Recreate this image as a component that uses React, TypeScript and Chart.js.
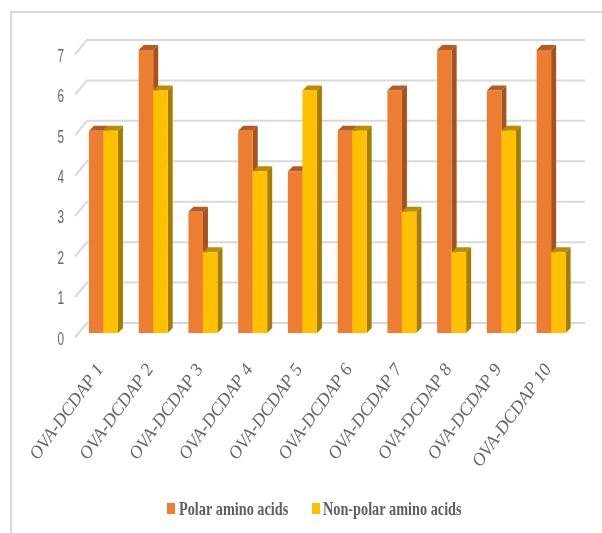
import React, { useEffect, useRef } from "react";
import { Chart, registerables } from "chart.js";

Chart.register(...registerables);

const categories = [
  "OVA-DCDAP 1", "OVA-DCDAP 2", "OVA-DCDAP 3", "OVA-DCDAP 4", "OVA-DCDAP 5",
  "OVA-DCDAP 6", "OVA-DCDAP 7", "OVA-DCDAP 8", "OVA-DCDAP 9", "OVA-DCDAP 10",
];
const polarValues = [5, 7, 3, 5, 4, 5, 6, 7, 6, 7];
const nonPolarValues = [5, 6, 2, 4, 6, 5, 3, 2, 5, 2];
const valueTicks = [0, 1, 2, 3, 4, 5, 6, 7];

const FACE_COLORS = [
  { front: "#ed7d31", side: "#a5521f", top: "#b55c22" },
  { front: "#ffc000", side: "#a67d00", top: "#b88d00" },
];
const DEPTH = 5;
const GRID_COLOR = "#d9d9d9";
const TEXT_COLOR = "#666666";

// Perspective walls: gridlines sit behind the bars and run forward to the value labels.
const wallPlugin = {
  id: "wall",
  beforeDatasetsDraw(chart: any) {
    const { ctx, chartArea, scales } = chart;
    ctx.save();
    ctx.strokeStyle = GRID_COLOR;
    ctx.lineWidth = 2;
    for (const v of valueTicks) {
      const y = scales.y.getPixelForValue(v);
      ctx.beginPath();
      ctx.moveTo(chartArea.left - 3.6, y + 4.5);
      ctx.lineTo(chartArea.left + 8.4, y - 10);
      ctx.lineTo(chartArea.right + 9, y - 10);
      ctx.stroke();
    }
    ctx.restore();
  },
  afterDraw(chart: any) {
    const { ctx, chartArea, scales } = chart;
    ctx.save();
    ctx.fillStyle = TEXT_COLOR;
    ctx.font = '19px "Liberation Sans"';
    ctx.textAlign = "right";
    ctx.textBaseline = "middle";
    for (const v of valueTicks) {
      ctx.save();
      ctx.translate(chartArea.left - 14.5, scales.y.getPixelForValue(v) + 6.5);
      ctx.scale(0.62, 1);
      ctx.fillText(String(v), 0, 0);
      ctx.restore();
    }
    ctx.restore();
  },
};

// Paints each series left to right so the nearer bar overlaps its neighbour's side face.
const extrudePlugin = {
  id: "extrude",
  beforeDatasetDraw() {
    return false;
  },
  afterDatasetsDraw(chart: any) {
    const { ctx } = chart;
    FACE_COLORS.forEach((colors, index) => {
      const bars = chart.getDatasetMeta(index).data;
      ctx.save();
      for (const bar of bars) {
        const { x, y, base, width } = bar.getProps(["x", "y", "base", "width"], true);
        const l = x - width / 2;
        const r = x + width / 2;
        ctx.fillStyle = colors.side;
        ctx.beginPath();
        ctx.moveTo(r, y);
        ctx.lineTo(r + DEPTH, y - DEPTH);
        ctx.lineTo(r + DEPTH, base - DEPTH);
        ctx.lineTo(r, base);
        ctx.closePath();
        ctx.fill();
        ctx.fillStyle = colors.top;
        ctx.beginPath();
        ctx.moveTo(l, y);
        ctx.lineTo(l + DEPTH, y - DEPTH);
        ctx.lineTo(r + DEPTH, y - DEPTH);
        ctx.lineTo(r, y);
        ctx.closePath();
        ctx.fill();
      }
      ctx.restore();
      for (const bar of bars) bar.draw(ctx);
    });
  },
};

// Legend with tall, condensed bold lettering, centred under the plot.
const legendPlugin = {
  id: "condensedLegend",
  afterDraw(chart: any) {
    const { ctx } = chart;
    const rows = [
      { boxX: 167, textX: 179 },
      { boxX: 312, textX: 323 },
    ];
    const midY = 509;
    ctx.save();
    ctx.font = 'bold 19px "Liberation Serif"';
    ctx.textAlign = "left";
    ctx.textBaseline = "middle";
    chart.data.datasets.forEach((ds: any, i: number) => {
      ctx.fillStyle = ds.backgroundColor;
      ctx.fillRect(rows[i].boxX, midY - 6, 8, 11);
      ctx.save();
      ctx.translate(rows[i].textX, midY + 1);
      ctx.scale(0.75, 1);
      ctx.fillStyle = "#5f5f5f";
      ctx.fillText(ds.label, 0, 0);
      ctx.restore();
    });
    ctx.restore();
  },
};

export default function App() {
  const canvasRef = useRef<HTMLCanvasElement>(null);

  useEffect(() => {
    const chart = new Chart(canvasRef.current!, {
      type: "bar",
      data: {
        labels: categories,
        datasets: [
          {
            label: "Polar amino acids",
            data: polarValues,
            backgroundColor: FACE_COLORS[0].front,
            categoryPercentage: 0.583,
            barPercentage: 1,
          },
          {
            label: "Non-polar amino acids",
            data: nonPolarValues,
            backgroundColor: FACE_COLORS[1].front,
            categoryPercentage: 0.583,
            barPercentage: 1,
          },
        ],
      },
      options: {
        responsive: false,
        animation: false,
        layout: {
          autoPadding: false,
          padding: { left: 0, right: 26, top: 50, bottom: 0 },
        },
        scales: {
          x: {
            grid: { display: false },
            border: { display: false },
            ticks: {
              autoSkip: false,
              minRotation: 54,
              maxRotation: 54,
              padding: 19,
              labelOffset: -3,
              color: TEXT_COLOR,
              font: { family: '"Liberation Serif"', style: "italic", size: 18 },
            },
            afterFit(scale: any) {
              scale.height = 200;
            },
          },
          y: {
            min: 0,
            max: 7,
            grid: { display: false },
            border: { display: false },
            ticks: { display: false, stepSize: 1 },
            afterFit(scale: any) {
              scale.width = 78.6;
            },
          },
        },
        plugins: {
          tooltip: { enabled: false },
          legend: { display: false },
        },
      },
      plugins: [wallPlugin, extrudePlugin, legendPlugin],
    });
    return () => chart.destroy();
  }, []);

  return (
    <div style={{ position: "fixed", inset: 0, overflow: "hidden", background: "#fff" }}>
      <canvas ref={canvasRef} width={602} height={533} style={{ position: "absolute", left: 0, top: 0 }} />
      <div
        style={{
          position: "absolute",
          left: 10,
          top: 11,
          right: 0,
          bottom: 0,
          borderLeft: `2px solid ${GRID_COLOR}`,
          borderTop: `2px solid ${GRID_COLOR}`,
        }}
      />
    </div>
  );
}
